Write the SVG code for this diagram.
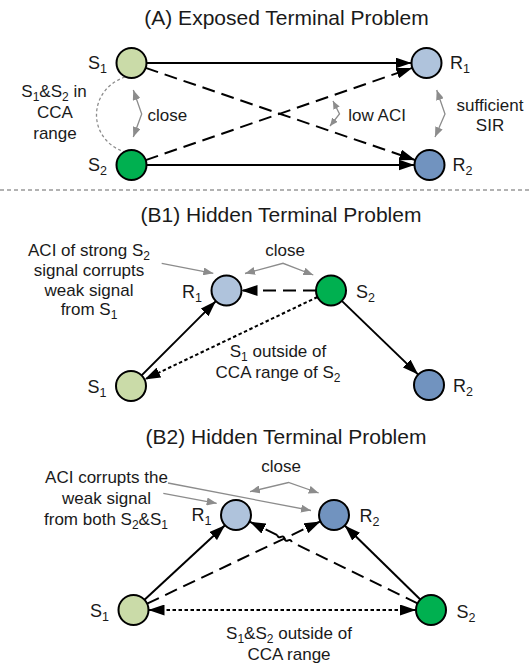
<svg xmlns="http://www.w3.org/2000/svg" width="531" height="667" viewBox="0 0 531 667">
<style>
text{font-family:"Liberation Sans",Arial,sans-serif;font-size:17px;fill:#1a1a1a}
.title{font-size:21px}
.mid{text-anchor:middle}
.sub{font-size:12px;baseline-shift:-3.5px}
.node text{font-size:18px}
.node .sub{font-size:12.5px}
.node circle{stroke:#000;stroke-width:2}
.c1{fill:#cadba8}.c2{fill:#00b050}.c3{fill:#afc3dc}.c4{fill:#7193bf}
.conn{stroke:#000;stroke-width:2;fill:none}
.dash{stroke-dasharray:13 7}
.dot{stroke-dasharray:3.5 2.5}
.gray{stroke:#8c8c8c;stroke-width:1.3;fill:none}
.sep{stroke:#999;stroke-width:1.5;stroke-dasharray:4 3}
</style>
<defs>
<marker id="ah" markerUnits="userSpaceOnUse" markerWidth="16" markerHeight="11" refX="16" refY="5.5" orient="auto-start-reverse"><path d="M0,0 L16,5.5 L0,11 z" fill="#000"/></marker>
<marker id="gh" markerUnits="userSpaceOnUse" markerWidth="10" markerHeight="8" refX="10" refY="4" orient="auto-start-reverse"><path d="M0,0 L10,4 L0,8 z" fill="#8c8c8c"/></marker>
<marker id="gs" markerUnits="userSpaceOnUse" markerWidth="8" markerHeight="7" refX="8" refY="3.5" orient="auto-start-reverse"><path d="M0,0 L8,3.5 L0,7 z" fill="#8c8c8c"/></marker>
</defs>

<!-- Titles and separator -->
<text class="title mid" x="286.5" y="25">(A) Exposed Terminal Problem</text>
<line class="sep" x1="0" y1="190" x2="531" y2="190"/>
<text class="title mid" x="281" y="221.5">(B1) Hidden Terminal Problem</text>
<text class="title mid" x="286" y="443.5">(B2) Hidden Terminal Problem</text>

<!-- Connectors -->
<g id="connectors">
  <!-- A -->
  <line class="conn" x1="146.5" y1="63" x2="411.5" y2="63" marker-end="url(#ah)"/>
  <line class="conn" x1="146.5" y1="165" x2="414.5" y2="165" marker-end="url(#ah)"/>
  <line class="conn dash" x1="145.7" y1="67.9" x2="415.3" y2="160.1" marker-end="url(#ah)"/>
  <line class="conn dash" x1="145.7" y1="160.1" x2="412.3" y2="67.9" marker-end="url(#ah)"/>
  <path class="gray" d="M125,77 C87,90 87,140 125,152" stroke-dasharray="3 2.5"/>
  <polyline class="gray" points="133.3,90 141.7,114 133.3,137" marker-start="url(#gh)" marker-end="url(#gh)"/>
  <polyline class="gray" points="436.7,90 445,114 435,137" marker-start="url(#gh)" marker-end="url(#gh)"/>
  <polyline class="gray" points="333,101 339.5,114 330,126" marker-start="url(#gs)" marker-end="url(#gs)"/>
  <!-- B1 -->
  <line class="conn dash" x1="316" y1="290.5" x2="241.5" y2="290.5" marker-end="url(#ah)"/>
  <line class="conn" x1="141.6" y1="375.4" x2="215.9" y2="301.1" marker-end="url(#ah)"/>
  <line class="conn dot" x1="317.5" y1="297" x2="144.5" y2="379.5" marker-end="url(#ah)"/>
  <line class="conn" x1="341.8" y1="300.9" x2="418.2" y2="374.6" marker-end="url(#ah)"/>
  <line class="gray" x1="161.7" y1="263.3" x2="213.3" y2="273.3" marker-end="url(#gh)"/>
  <polyline class="gray" points="245,273.5 283,263.3 313.3,275" marker-start="url(#gh)" marker-end="url(#gh)"/>
  <!-- B2 -->
  <line class="conn" x1="144.5" y1="599.8" x2="225" y2="525.2" marker-end="url(#ah)"/>
  <line class="conn dash" x1="147.1" y1="603.6" x2="320.4" y2="521.4" marker-end="url(#ah)"/>
  <line class="conn dash" x1="417.5" y1="603.4" x2="291.7" y2="542.1"/>
  <path class="conn" d="M291.7,542.1 Q291,539 288.1,540.35 T284.5,538.6 T280.9,536.85 T277.3,535.1"/>
  <line class="conn dash" x1="277.3" y1="535.1" x2="249.5" y2="521.6" marker-end="url(#ah)"/>
  <line class="conn" x1="420.3" y1="599.5" x2="344.7" y2="525.5" marker-end="url(#ah)"/>
  <line class="conn dot" x1="148.5" y1="610" x2="416" y2="610" marker-start="url(#ah)" marker-end="url(#ah)"/>
  <line class="gray" x1="168" y1="483" x2="311" y2="510.5" marker-end="url(#gh)"/>
  <line class="gray" x1="163.3" y1="493.3" x2="216.7" y2="503.3" marker-end="url(#gh)"/>
  <polyline class="gray" points="250,491.7 288.5,482.5 318.7,493" marker-start="url(#gh)" marker-end="url(#gh)"/>
</g>

<!-- A nodes -->
<g id="A-S1" class="node"><circle class="c1" cx="131.5" cy="63" r="15"/><text x="88" y="69">S<tspan class="sub">1</tspan></text></g>
<g id="A-R1" class="node"><circle class="c3" cx="426.5" cy="63" r="15"/><text x="450" y="69">R<tspan class="sub">1</tspan></text></g>
<g id="A-S2" class="node"><circle class="c2" cx="131.5" cy="165" r="15"/><text x="88" y="171">S<tspan class="sub">2</tspan></text></g>
<g id="A-R2" class="node"><circle class="c4" cx="429.5" cy="165" r="15"/><text x="452.5" y="171">R<tspan class="sub">2</tspan></text></g>

<g id="A-labels">
  <text class="mid" x="54" y="97">S<tspan class="sub">1</tspan>&amp;S<tspan class="sub">2</tspan> in</text>
  <text class="mid" x="55" y="118">CCA</text>
  <text class="mid" x="55" y="138.5">range</text>
  <text x="147.5" y="121">close</text>
  <text x="348.3" y="121">low ACI</text>
  <text class="mid" x="490" y="111">sufficient</text>
  <text class="mid" x="490" y="131">SIR</text>
</g>

<!-- B1 nodes -->
<g id="B1-R1" class="node"><circle class="c3" cx="226.5" cy="290.5" r="15"/><text x="182" y="297.5">R<tspan class="sub">1</tspan></text></g>
<g id="B1-S2" class="node"><circle class="c2" cx="331" cy="290.5" r="15"/><text x="356" y="297.5">S<tspan class="sub">2</tspan></text></g>
<g id="B1-S1" class="node"><circle class="c1" cx="131" cy="386" r="15"/><text x="87.5" y="392.5">S<tspan class="sub">1</tspan></text></g>
<g id="B1-R2" class="node"><circle class="c4" cx="429" cy="385" r="15"/><text x="453" y="391.5">R<tspan class="sub">2</tspan></text></g>

<g id="B1-labels">
  <text class="mid" x="89" y="256">ACI of strong S<tspan class="sub">2</tspan></text>
  <text class="mid" x="89" y="275.5">signal corrupts</text>
  <text class="mid" x="89" y="295.5">weak signal</text>
  <text class="mid" x="89" y="315">from S<tspan class="sub">1</tspan></text>
  <text class="mid" x="285" y="256">close</text>
  <text class="mid" x="278" y="357">S<tspan class="sub">1</tspan> outside of</text>
  <text class="mid" x="278" y="378">CCA range of S<tspan class="sub">2</tspan></text>
</g>

<!-- B2 nodes -->
<g id="B2-R1" class="node"><circle class="c3" cx="236" cy="515" r="15"/><text x="191.5" y="521">R<tspan class="sub">1</tspan></text></g>
<g id="B2-R2" class="node"><circle class="c4" cx="334" cy="515" r="15"/><text x="359.5" y="521.5">R<tspan class="sub">2</tspan></text></g>
<g id="B2-S1" class="node"><circle class="c1" cx="133.5" cy="610" r="15"/><text x="90" y="616.5">S<tspan class="sub">1</tspan></text></g>
<g id="B2-S2" class="node"><circle class="c2" cx="431" cy="610" r="15"/><text x="456.5" y="618">S<tspan class="sub">2</tspan></text></g>

<g id="B2-labels">
  <text class="mid" x="106.5" y="483">ACI corrupts the</text>
  <text class="mid" x="106.5" y="504">weak signal</text>
  <text class="mid" x="106" y="525">from both S<tspan class="sub">2</tspan>&amp;S<tspan class="sub">1</tspan></text>
  <text class="mid" x="281" y="472">close</text>
  <text class="mid" x="289" y="639">S<tspan class="sub">1</tspan>&amp;S<tspan class="sub">2</tspan> outside of</text>
  <text class="mid" x="289" y="660">CCA range</text>
</g>
</svg>
